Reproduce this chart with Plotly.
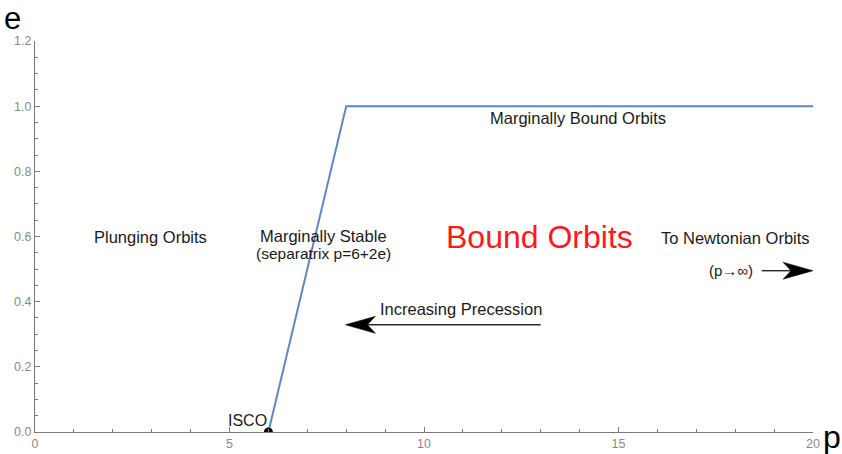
import plotly.graph_objects as go

# Separatrix / boundary curve in the (p, e) plane
p_boundary = [6, 8, 20]
e_boundary = [0, 1, 1]

# ISCO point
p_isco = [6]
e_isco = [0]

x_ticks = [0, 5, 10, 15, 20]
y_ticks = [0.0, 0.2, 0.4, 0.6, 0.8, 1.0, 1.2]

# Direction arrows: (tail p, tail e) -> (tip p, tip e)
arrow_tail_p = [13.0, 18.68]
arrow_tail_e = [0.329, 0.495]
arrow_tip_p = [7.98, 20.0]
arrow_tip_e = [0.329, 0.495]

FONT = "Liberation Sans, Arial, Helvetica, sans-serif"
LINE_BLUE = "#6287c0"
AXIS_GRAY = "#7a7a7a"

W, H = 842, 454
M = dict(l=35, r=29, t=41, b=22)
X_RANGE = [0, 20]
Y_RANGE = [0, 1.2]
px_per_x = (W - M["l"] - M["r"]) / (X_RANGE[1] - X_RANGE[0])
px_per_y = (H - M["t"] - M["b"]) / (Y_RANGE[1] - Y_RANGE[0])

fig = go.Figure()

fig.add_trace(go.Scatter(
    x=p_boundary, y=e_boundary, mode="lines",
    line=dict(color=LINE_BLUE, width=2),
    hoverinfo="skip", showlegend=False,
))
fig.add_trace(go.Scatter(
    x=p_isco, y=e_isco, mode="markers",
    marker=dict(color="black", size=9),
    hoverinfo="skip", showlegend=False,
))

text_labels = [
    dict(x=2.96, y=0.597, text="Plunging Orbits", size=16.5, color="#1a1a1a"),
    dict(x=7.42, y=0.603, text="Marginally Stable", size=16.5, color="#1a1a1a"),
    dict(x=7.42, y=0.548, text="(separatrix p=6+2e)", size=15.5, color="#1a1a1a"),
    dict(x=12.98, y=0.597, text="Bound Orbits", size=32, color="#ff1a1a"),
    dict(x=18.02, y=0.594, text="To Newtonian Orbits", size=16.5, color="#1a1a1a"),
    dict(x=17.9, y=0.497, text="(p→∞)", size=15, color="#1a1a1a"),
    dict(x=10.95, y=0.378, text="Increasing Precession", size=16.5, color="#1a1a1a"),
    dict(x=13.95, y=0.964, text="Marginally Bound Orbits", size=16.5, color="#1a1a1a"),
    dict(x=5.45, y=0.034, text="ISCO", size=16, color="#1a1a1a"),
]

annotations = []
for t in text_labels:
    annotations.append(dict(
        x=t["x"], y=t["y"], xref="x", yref="y", text=t["text"],
        showarrow=False, font=dict(family=FONT, size=t["size"], color=t["color"]),
        xanchor="center", yanchor="middle", align="center", borderpad=0,
    ))

# Axis titles
annotations.append(dict(
    x=-0.0295, y=1 + M["t"] / (H - M["t"] - M["b"]), xref="paper", yref="paper",
    text="e", showarrow=False, borderpad=0,
    font=dict(family=FONT, size=31, color="black"), xanchor="center", yanchor="top",
))
annotations.append(dict(
    x=1.024, y=-0.012, xref="paper", yref="paper", text="p", showarrow=False,
    font=dict(family=FONT, size=32, color="black"), xanchor="center", yanchor="middle",
))

# Arrow shafts and notched heads (head size given in pixels)
HEAD_LEN, HEAD_HALF, NOTCH = 30.0, 8.5, 22.0
shapes = []
for tp, te, hp, he in zip(arrow_tail_p, arrow_tail_e, arrow_tip_p, arrow_tip_e):
    dx_px = (hp - tp) * px_per_x
    dy_px = (he - te) * px_per_y
    length = (dx_px ** 2 + dy_px ** 2) ** 0.5
    ux, uy = dx_px / length, dy_px / length
    nx, ny = -uy, ux

    def to_data(ox, oy):
        return hp + ox / px_per_x, he + oy / px_per_y

    base_x, base_y = to_data(-ux * NOTCH, -uy * NOTCH)
    shapes.append(dict(
        type="line", xref="x", yref="y", x0=tp, y0=te, x1=base_x, y1=base_y,
        line=dict(color="#2a2a2a", width=1.4),
    ))
    c1 = to_data(-ux * HEAD_LEN + nx * HEAD_HALF, -uy * HEAD_LEN + ny * HEAD_HALF)
    c2 = to_data(-ux * HEAD_LEN - nx * HEAD_HALF, -uy * HEAD_LEN - ny * HEAD_HALF)
    path = (f"M {hp},{he} L {c1[0]},{c1[1]} L {base_x},{base_y} "
            f"L {c2[0]},{c2[1]} Z")
    shapes.append(dict(
        type="path", xref="x", yref="y", path=path,
        fillcolor="black", line=dict(color="black", width=0.5),
    ))

fig.update_layout(
    width=W, height=H,
    margin=M,
    paper_bgcolor="white", plot_bgcolor="white",
    annotations=annotations,
    shapes=shapes,
    showlegend=False,
)

fig.update_xaxes(
    range=X_RANGE, tickvals=x_ticks, ticktext=[str(v) for v in x_ticks],
    showgrid=False, zeroline=False, showline=True, linecolor=AXIS_GRAY, linewidth=1,
    ticks="inside", ticklen=5, tickcolor=AXIS_GRAY, automargin=False,
    minor=dict(dtick=1, ticks="inside", ticklen=3, tickcolor=AXIS_GRAY, showgrid=False),
    tickfont=dict(family=FONT, size=12.5, color="#8a8a8a"),
)
fig.update_yaxes(
    range=Y_RANGE, tickvals=y_ticks, ticktext=[f"{v:.1f}" for v in y_ticks],
    showgrid=False, zeroline=False, showline=True, linecolor=AXIS_GRAY, linewidth=1,
    ticks="inside", ticklen=5, tickcolor=AXIS_GRAY, automargin=False,
    minor=dict(dtick=0.05, ticks="inside", ticklen=3, tickcolor=AXIS_GRAY, showgrid=False),
    tickfont=dict(family=FONT, size=12.5, color="#8a8a8a"),
)

fig.write_html("out.html")
